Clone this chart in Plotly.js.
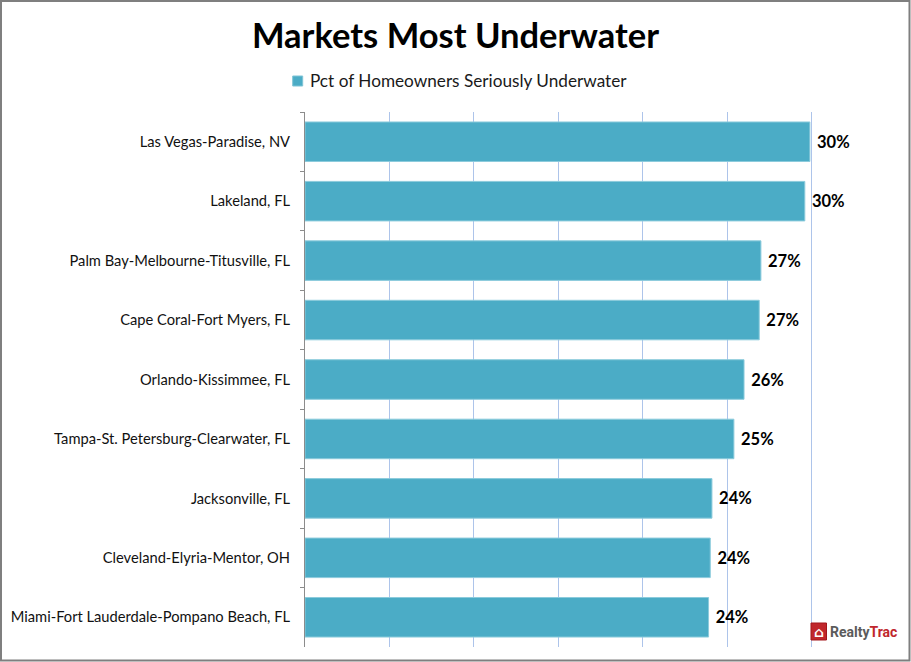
<!DOCTYPE html>
<html>
<head>
<meta charset="utf-8">
<script src="https://cdn.plot.ly/plotly-3.0.1.min.js"></script>
<style>html,body{margin:0;padding:0;background:#fff;}#chart{width:911px;height:662px;}</style>
</head>
<body>
<div id="chart"></div>
<script>
const categories = [
  "Las Vegas-Paradise, NV",
  "Lakeland, FL",
  "Palm Bay-Melbourne-Titusville, FL",
  "Cape Coral-Fort Myers, FL",
  "Orlando-Kissimmee, FL",
  "Tampa-St. Petersburg-Clearwater, FL",
  "Jacksonville, FL",
  "Cleveland-Elyria-Mentor, OH",
  "Miami-Fort Lauderdale-Pompano Beach, FL"
];
const pctUnderwater = [29.9, 29.6, 27.0, 26.9, 26.0, 25.4, 24.1, 24.0, 23.9];
const valueLabels = ["30%", "30%", "27%", "27%", "26%", "25%", "24%", "24%", "24%"];
const seriesName = "Pct of Homeowners Seriously Underwater";
const xTicks = [0, 5, 10, 15, 20, 25, 30, 35];

const FONT = "Lato, 'Open Sans', sans-serif";
const BAR = "#4bacc6";

// plot area in pixels: x 305..896, y 112..647
const PL = 305, PR = 896, PT = 112, PB = 647;
const px = x => (x - PL) / (PR - PL);
const py = y => (PB - y) / (PB - PT);

const trace = {
  type: "bar",
  orientation: "h",
  y: categories,
  x: pctUnderwater,
  name: seriesName,
  text: valueLabels.map(t => "\u2009\u2009" + t),
  textposition: "outside",
  cliponaxis: false,
  textfont: {family: FONT, size: 16.5, color: "#000", weight: "bold"},
  marker: {color: BAR, line: {color: "#8ccbdc", width: 1}},
  showlegend: false,
  hoverinfo: "x+y"
};

const layout = {
  width: 911, height: 662,
  margin: {l: PL, r: 911 - PR, t: PT, b: 662 - PB, pad: 0},
  paper_bgcolor: "#fff", plot_bgcolor: "#fff",
  font: {family: FONT, size: 15, color: "#111"},
  title: {
    text: "<b>" + "Markets Most Underwater" + "</b>",
    font: {family: FONT, size: 34.5, color: "#000"},
    x: 0.5, xref: "container", xanchor: "center",
    y: 1 - 36/662, yref: "container", yanchor: "middle"
  },
  bargap: 0.335,
  showlegend: false,
  xaxis: {
    range: [0, 35], tickvals: xTicks, showticklabels: false,
    showgrid: true, gridcolor: "#adc4ea", gridwidth: 1,
    zeroline: false, showline: false, ticks: "", fixedrange: true
  },
  yaxis: {
    type: "category", autorange: "reversed",
    showline: true, linecolor: "#8c8c8c", linewidth: 1,
    ticks: "outside", tickson: "boundaries", ticklen: 4, tickcolor: "#8c8c8c",
    showgrid: false, zeroline: false,
    tickfont: {family: FONT, size: 14.7, color: "#111"},
    ticklabelstandoff: 11, fixedrange: true
  },
  shapes: [
    {type: "rect", xref: "paper", yref: "paper",
     x0: px(1), x1: px(909.5), y0: py(660.5), y1: py(1),
     line: {color: "#7f7f7f", width: 2}, fillcolor: "rgba(0,0,0,0)", layer: "above"},
    // legend swatch
    {type: "rect", xref: "paper", yref: "paper",
     x0: px(292.7), x1: px(302.7), y0: py(86), y1: py(76),
     line: {color: "#7fc4d6", width: 1}, fillcolor: BAR, layer: "above"},
    // logo badge
    {type: "rect", xref: "paper", yref: "paper",
     x0: px(811), x1: px(826.5), y0: py(640), y1: py(623),
     line: {color: "#a3161c", width: 1}, fillcolor: "#c0272d", layer: "above"}
  ],
  annotations: [
    {xref: "paper", yref: "paper", x: px(308), y: py(81),
     xanchor: "left", yanchor: "middle", showarrow: false,
     text: seriesName, font: {family: FONT, size: 17.2, color: "#1a1a1a"}},
    {xref: "paper", yref: "paper", x: px(818.7), y: py(631.5),
     xanchor: "center", yanchor: "middle", showarrow: false,
     text: "<b>⌂</b>", font: {family: "DejaVu Sans", size: 14, color: "#fff"}},
    {xref: "paper", yref: "paper", x: px(828), y: py(632),
     xanchor: "left", yanchor: "middle", showarrow: false,
     text: "<b><span style='color:#5b5b5b'>Realty</span><span style='color:#c0272d'>Trac</span></b>",
     font: {family: "'Liberation Sans Narrow', 'Roboto', sans-serif", size: 14}}
  ]
};

Plotly.newPlot("chart", [trace], layout, {displayModeBar: false, staticPlot: true});
</script>
</body>
</html>
